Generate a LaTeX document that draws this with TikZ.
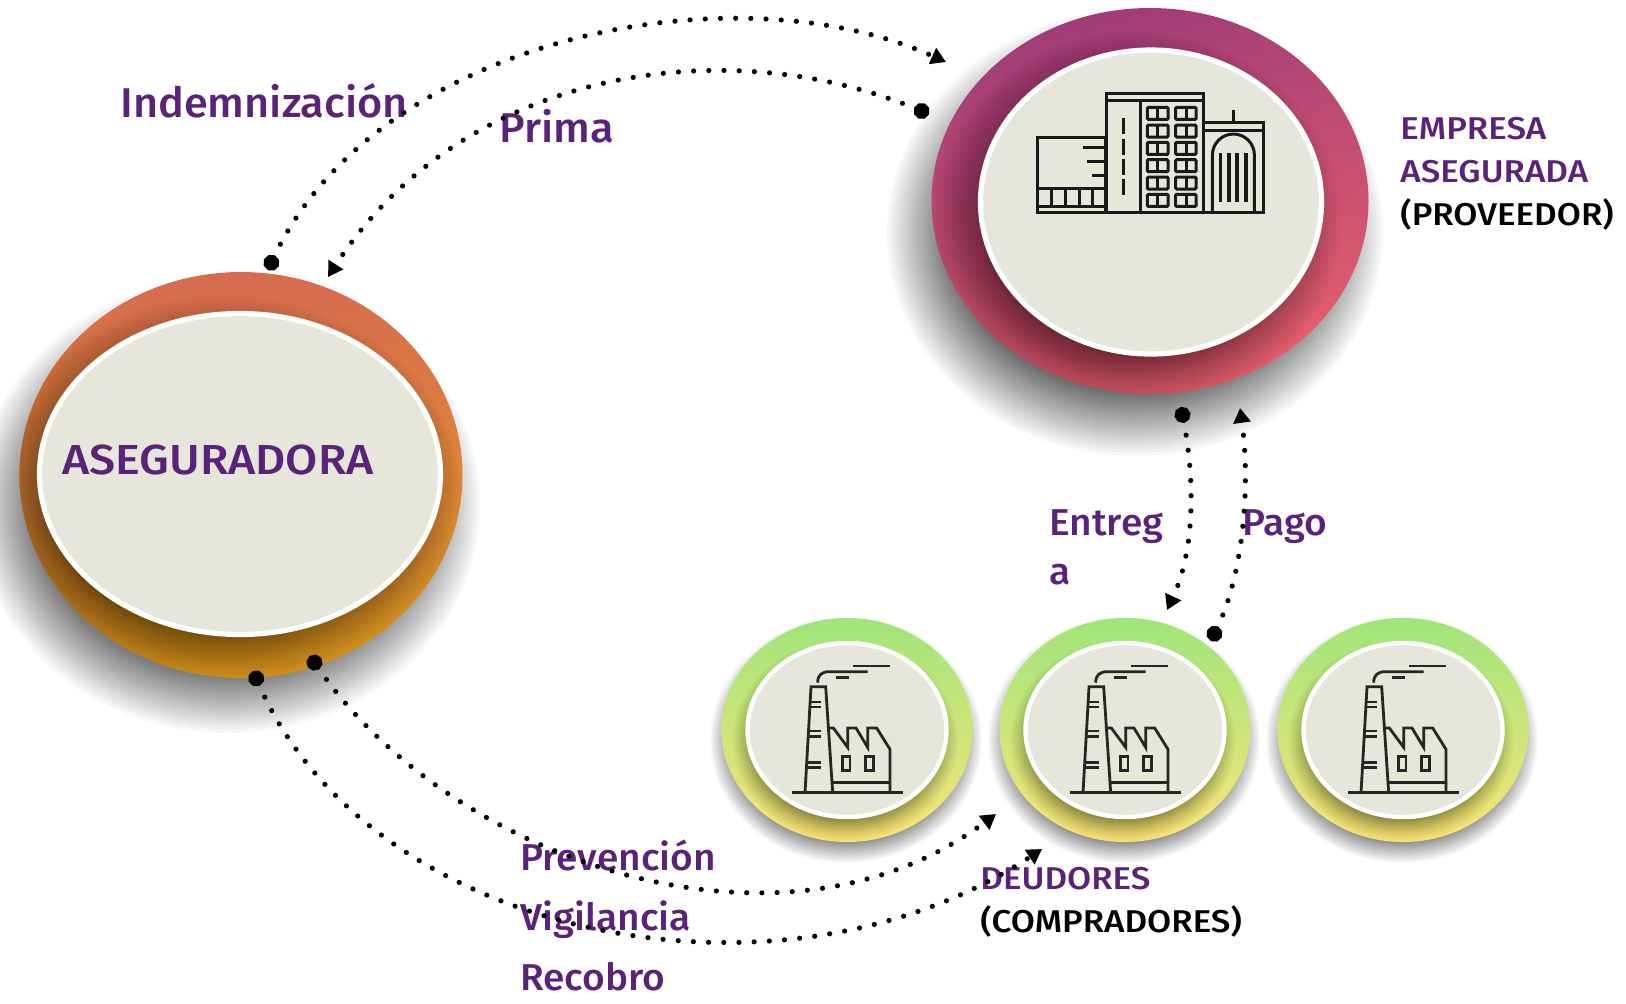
\documentclass[tikz,border=0pt]{standalone}
\usepackage{fontspec}
\setmainfont{Fira Sans}[UprightFont=* Medium,FakeStretch=1.04]
\newfontfamily\capsfont{Fira Sans}[UprightFont=* Medium,FakeStretch=1.11]
\usetikzlibrary{shapes.geometric}
\usetikzlibrary{arrows.meta}

\definecolor{moradotxt}{HTML}{5A2278}
\definecolor{crema}{HTML}{E6E6DA}
\definecolor{trazo}{HTML}{262626}
\definecolor{asegtop}{HTML}{D56B50}
\definecolor{asegbot}{HTML}{E8A020}
\definecolor{emptop}{HTML}{A03C78}
\definecolor{empbot}{HTML}{E8606C}
\definecolor{deudtop}{HTML}{A0E57A}
\definecolor{deudbot}{HTML}{FAE478}

\newcommand\softshadow[6]{%
  \foreach \k in {0,...,48}{
    \pgfmathsetmacro\off{#5*(2*(1-\k/48)^2-1)}
    \fill[black,opacity=#6] (#1,#2) ellipse [x radius={#3+\off},y radius={#4+\off}];
  }}

\tikzset{
  outer/.style={ellipse,outer sep=0pt,inner sep=0pt},
  inner/.style={ellipse,draw=white,line width=2.6pt,fill=crema,outer sep=0pt,inner sep=0pt},
  lbl/.style={anchor=west,inner sep=0pt,text=moradotxt,align=left},
  flow/.style={line width=2.6pt,line cap=round,dash pattern=on 0pt off 7.6pt,
    {Circle[length=8pt]}-{Triangle[length=7.4pt,width=8.4pt]}},
  factoryicon/.pic={
    \begin{scope}[x=.1667pt,y=-.1667pt,draw=trazo,line width=1.4pt]
    \draw (65,458) -- (398,458);
    \draw (105,458) -- (123,140) -- (167,140) -- (188,458);
    \foreach \a/\b in {120/186,120/201,115/273,113/289,112/367,110/383}
      \draw (\a,\b) -- (152,\b);
    \draw (143,128) .. controls (143,105) and (155,95) .. (178,95) -- (293,95);
    \draw (197,112) -- (238,112);
    \draw (250,78) -- (360,78);
    \draw (178,264) -- (190,264) -- (233,322) -- (233,264) -- (258,264) -- (293,322) -- (293,264) -- (320,264) -- (360,328) -- (360,458);
    \draw (188,428) -- (360,428);
    \draw (217,350) rectangle (240,392);
    \draw (287,350) rectangle (310,392);
    \end{scope}
  }
}

\begin{document}
\begin{tikzpicture}[x=.5pt,y=-.5pt]
\useasboundingbox (0,0) rectangle (1626,1003);

% Aseguradora
\softshadow{228}{505}{212}{188}{40}{.03}
\node[outer,minimum width=221.5pt,minimum height=203pt,shade,top color=asegtop,bottom color=asegbot,shading angle=0] at(241,475) (aseg) {};
\begin{scope}
\clip (241,475) ellipse [x radius=221.5,y radius=203];
\softshadow{224}{495}{203}{163}{35}{.018}
\end{scope}
\node[inner,minimum width=200.5pt,minimum height=160.5pt] at(240,474) (asegin) {};

% Empresa asegurada
\softshadow{1135}{233}{208}{183}{40}{.03}
\node[outer,minimum width=218.5pt,minimum height=193pt,shade,top color=emptop,bottom color=empbot,shading angle=15] at(1150,201) (emp) {};
\begin{scope}
\clip (1150,201) ellipse [x radius=218.5,y radius=193];
\softshadow{1135}{222}{170}{155}{35}{.018}
\end{scope}
\node[inner,minimum width=170.5pt,minimum height=152pt] at(1151,202) (empin) {};

% Deudores
\foreach \cx/\nm in {847/deud1,1125/deud2,1403/deud3}{
  \softshadow{\cx-1}{740}{122}{109}{14}{.024}
  \node[outer,minimum width=125.5pt,minimum height=112pt,shade,top color=deudtop,bottom color=deudbot] at(\cx,730) (\nm) {};
  \begin{scope}
  \clip (\cx,730) ellipse [x radius=125.5,y radius=112];
  \softshadow{\cx-2}{741}{101}{89}{12}{.013}
  \end{scope}
  \node[inner,line width=2.2pt,minimum width=99.5pt,minimum height=87pt] at(\cx,730) (\nm in) {};
}

% Edificio
\begin{scope}[shift={(1000,60)},x=.1667pt,y=-.1667pt,line width=1.5pt,draw=black!90]
\draw (112,233) rectangle (315,458);
\draw (112,385) -- (315,385);
\draw (112,440) -- (315,440);
\foreach \a in {155,195,237,277}
  \draw (\a,385) -- (\a,440);
\foreach \a/\b in {248/262,262/303,277/347}
  \draw (\a,\b) -- (315,\b);
\draw (318,100) rectangle (610,458);
\draw (318,122) -- (610,122);
\draw (420,122) -- (420,458);
\foreach \a/\b in {175/222,237/285,298/345,358/405}
  \draw (369,\a) -- (369,\b);
\foreach \b in {142,195,247,299,351,403}{
  \draw[rounded corners=.5pt] (442,\b) rectangle (504,\b+36);
  \draw (473,\b) -- (473,\b+36);
  \draw[rounded corners=.5pt] (527,\b) rectangle (588,\b+36);
  \draw (558,\b) -- (558,\b+36);
}
\draw (610,187) rectangle (790,458);
\draw (610,212) -- (790,212);
\draw (700,150) -- (700,187);
\draw (637,458) -- (637,285) arc [start angle=180,end angle=360,radius=63] -- (763,458);
\foreach \a in {661,687,711,737}
  \draw[line width=1.8pt,dash pattern=on 3.7pt off .3pt] (\a,280) -- (\a,425);
\end{scope}

% Fabricas
\foreach \a [count=\i] in {770,1048,1326}
  \pic (fab\i) at (\a,640) {factoryicon};

% Textos
\node[lbl,font=\capsfont\fontsize{21}{23}\selectfont] at(62,460) (tasegur) {ASEGURADORA};
\node[lbl,font=\fontsize{20.8}{23}\selectfont] at(120,101) (tindem) {Indemnización};
\node[lbl,font=\fontsize{20.8}{23}\selectfont] at(499,126) (tprima) {Prima};
\node[lbl,font=\capsfont\fontsize{15.75}{21.5}\selectfont] at(1400,174) (templ) {EMPRESA\\ASEGURADA\\\textcolor{black}{(PROVEEDOR)}};
\node[lbl,font=\capsfont\fontsize{15.75}{21.5}\selectfont] at(980,902) (tdeud) {DEUDORES\\\textcolor{black}{(COMPRADORES)}};
\node[lbl,font=\fontsize{18.7}{24.5}\selectfont] at(1049,547.5) (tentr) {Entreg\\a};
\node[lbl,font=\fontsize{18.7}{24.5}\selectfont] at(1242,527) (tpago) {Pago};
\node[lbl,font=\fontsize{18.7}{30}\selectfont] at(520,915) (tprev) {Prevención\\Vigilancia\\Recobro};

% Flujos
\draw[flow] ([xshift=13.5pt,yshift=1pt]aseg.north) .. controls (375,40) and (730,-35) .. ([xshift=7.25pt,yshift=69.5pt]emp.west);
\draw[flow] ([xshift=-1.25pt,yshift=43.5pt]emp.west) .. controls (720,28) and (460,72) .. ([xshift=43.5pt,yshift=-2.5pt]aseg.north);
\draw[flow] ([xshift=15.5pt,yshift=-6.5pt]emp.south) .. controls (1195,480) and (1195,550) .. ([xshift=21pt,yshift=4pt]deud2.north);
\draw[flow] ([xshift=43pt,yshift=-11.5pt]deud2.north) .. controls (1245,570) and (1250,480) .. ([xshift=45pt,yshift=-7pt]emp.south);
\draw[flow] ([xshift=34.5pt,yshift=11pt]aseg.south) .. controls (450,860) and (780,975) .. ([xshift=-64.5pt,yshift=-42pt]deud2.center);
\draw[flow] ([xshift=6pt,yshift=3.5pt]aseg.south) .. controls (370,940) and (780,1022) .. ([xshift=-41.5pt,yshift=-59.5pt]deud2.center);
\end{tikzpicture}
\end{document}
